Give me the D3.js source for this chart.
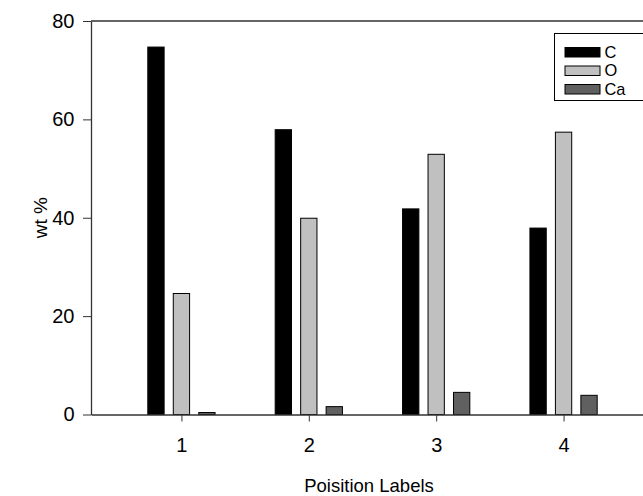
<!DOCTYPE html>
<html><head><meta charset="utf-8">
<script src="https://cdn.jsdelivr.net/npm/d3@7"></script>
<style>body{margin:0;background:#fff}svg{display:block}text{font-family:"Liberation Sans",Arial,sans-serif;fill:#000}</style>
</head><body>
<svg id="c" width="643" height="496"></svg>
<script>
const positions = [1, 2, 3, 4];
const seriesNames = ["C", "O", "Ca"];
const valuesC = [74.7, 57.9, 41.8, 37.9];
const valuesO = [24.6, 39.9, 52.9, 57.4];
const valuesCa = [0.4, 1.6, 4.5, 3.9];
const seriesColors = ["#000000", "#c0c0c0", "#606060"];
const yTicks = [0, 20, 40, 60, 80];

const series = [valuesC, valuesO, valuesCa];
const svg = d3.select("#c");
const mLeft = 91, mTop = 21, mBottom = 414.5, mRight = 654;
const x = d3.scaleLinear().domain([0.29, 4.71]).range([mLeft, mRight]);
const y = d3.scaleLinear().domain([0, 80]).range([mBottom, mTop]);
const offsets = [-0.2, 0, 0.2];
const bw = 0.128;
const FONT = "Liberation Sans, Arial, sans-serif";

// bars
series.forEach((vals, si) => {
  svg.append("g").selectAll("rect").data(vals).join("rect")
    .attr("x", (d, i) => x(positions[i] + offsets[si] - bw / 2))
    .attr("width", x(bw) - x(0))
    .attr("y", d => y(d))
    .attr("height", d => y(0) - y(d))
    .attr("fill", seriesColors[si])
    .attr("stroke", "#000").attr("stroke-width", 1);
});

// frame line
svg.append("line").attr("x1", mLeft).attr("x2", 643).attr("y1", mTop).attr("y2", mTop).attr("stroke", "#333").attr("stroke-width", 1.3);

// y axis
const yAxis = d3.axisLeft(y).tickValues(yTicks).tickSize(8).tickPadding(8.5).tickSizeOuter(0).tickFormat(d3.format("d"));
const gy = svg.append("g").attr("transform", `translate(${mLeft},0)`).call(yAxis);
gy.attr("font-size", 20).attr("font-family", FONT);
gy.select(".domain").attr("stroke", "#333").attr("stroke-width", 1.3);
gy.selectAll(".tick line").attr("stroke", "#333");
gy.selectAll("text").attr("fill", "#000");

// x axis
const xAxis = d3.axisBottom(x).tickValues(positions).tickSize(7).tickPadding(16).tickSizeOuter(0).tickFormat(d3.format("d"));
const gx = svg.append("g").attr("transform", `translate(0,${mBottom})`).call(xAxis);
gx.attr("font-size", 20).attr("font-family", FONT);
gx.select(".domain").attr("stroke", "#333").attr("stroke-width", 1.3);
gx.selectAll(".tick line").attr("stroke", "#333");
gx.selectAll("text").attr("fill", "#000");

// axis titles
svg.append("text").attr("transform", `translate(47,${(mTop + mBottom) / 2}) rotate(-90)`)
  .attr("text-anchor", "middle").attr("font-size", 19).text("wt %");
svg.append("text").attr("x", 369).attr("y", 492)
  .attr("text-anchor", "middle").attr("font-size", 18.5).text("Poisition Labels");

// legend
const lg = svg.append("g").attr("transform", "translate(554.5,33.5)");
lg.append("rect").attr("x", 0).attr("y", 0).attr("width", 95).attr("height", 67)
  .attr("fill", "#fff").attr("stroke", "#000").attr("stroke-width", 1);
seriesNames.forEach((n, i) => {
  lg.append("rect").attr("x", 10.5).attr("y", 14 + i * 18.5).attr("width", 35).attr("height", 9.5)
    .attr("fill", seriesColors[i]).attr("stroke", "#000");
  lg.append("text").attr("x", 50).attr("y", 24 + i * 18.5).attr("font-size", 16.4).text(n);
});
</script>
</body></html>
